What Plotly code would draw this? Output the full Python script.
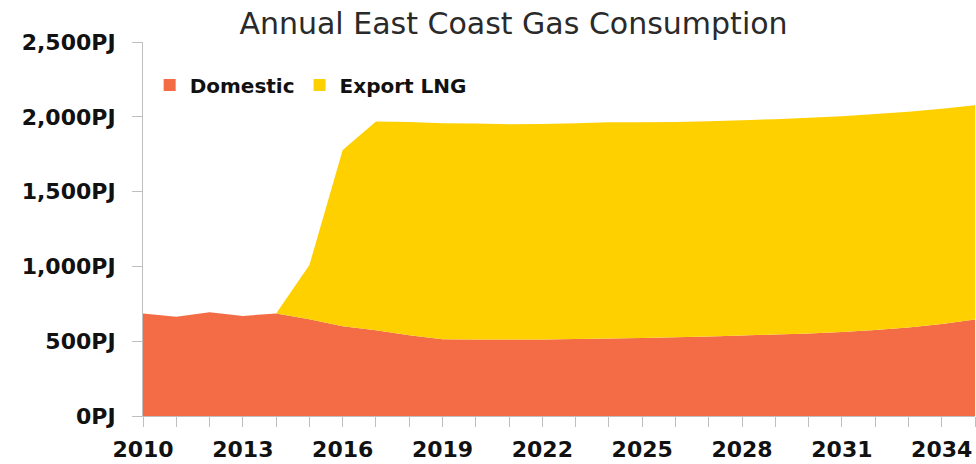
import plotly.graph_objects as go

years = list(range(2010, 2036))
domestic = [685, 663, 694, 669, 685, 647, 600, 574, 540, 513, 511, 511, 511, 514, 518,
            522, 526, 531, 538, 545, 552, 562, 575, 592, 615, 645]
total = [685, 663, 694, 669, 685, 1009, 1778, 1968, 1966, 1957, 1955, 1950, 1952, 1957, 1964,
         1964, 1966, 1970, 1977, 1984, 1993, 2004, 2019, 2033, 2053, 2078]
export_lng = [t - d for t, d in zip(total, domestic)]

x_tickvals = list(range(2010, 2035, 3))
y_tickvals = [0, 500, 1000, 1500, 2000, 2500]

ORANGE = "#F36C45"
YELLOW = "#FFD000"
AXIS = "#BFBFBF"
TICKFONT = dict(family="DejaVu Sans", size=22, color="#111111", weight="bold")

fig = go.Figure()
fig.add_trace(go.Scatter(x=years, y=domestic, mode="none", stackgroup="one",
                         fillcolor=ORANGE, showlegend=False, name="Domestic"))
fig.add_trace(go.Scatter(x=years, y=export_lng, mode="none", stackgroup="one",
                         fillcolor=YELLOW, showlegend=False, name="Export LNG"))
# legend entries
fig.add_trace(go.Scatter(x=[None], y=[None], mode="markers", name="Domestic",
                         marker=dict(symbol="square", size=12, color=ORANGE)))
fig.add_trace(go.Scatter(x=[None], y=[None], mode="markers", name="Export LNG",
                         marker=dict(symbol="square", size=12, color=YELLOW)))

fig.update_layout(
    width=976, height=464,
    margin=dict(l=143, r=1, t=42, b=48),
    paper_bgcolor="white", plot_bgcolor="white",
    title=dict(text="Annual East Coast Gas Consumption", x=513.5 / 976, xanchor="center",
               xref="container", y=1 - 23 / 464, yanchor="middle",
               font=dict(family="DejaVu Sans", size=30, color="#2a2a2a")),
    legend=dict(orientation="h", traceorder="normal", x=0.008, xanchor="left", y=0.885, yanchor="middle",
                font=dict(family="DejaVu Sans", size=20, color="#111111", weight="bold"),
                itemwidth=30, bgcolor="rgba(0,0,0,0)"),
    xaxis=dict(range=[2010, 2035], tickmode="array", tickvals=x_tickvals,
               ticktext=[str(v) for v in x_tickvals], automargin=False,
               showline=True, linecolor=AXIS, linewidth=1, showgrid=False, zeroline=False,
               ticks="outside", ticklen=10, tickcolor=AXIS, tickwidth=1,
               minor=dict(ticks="outside", dtick=1, tick0=2010, ticklen=10, tickcolor=AXIS, showgrid=False),
               tickfont=TICKFONT, ticklabelstandoff=4),
    yaxis=dict(range=[0, 2500], tickmode="array", tickvals=y_tickvals,
               ticktext=[f"{v:,}PJ" for v in y_tickvals], automargin=False,
               showline=True, linecolor=AXIS, linewidth=1, showgrid=False, zeroline=False,
               ticks="outside", ticklen=10, tickcolor=AXIS, tickwidth=1,
               tickfont=TICKFONT, ticklabelstandoff=12),
)

fig.write_html("out.html")
